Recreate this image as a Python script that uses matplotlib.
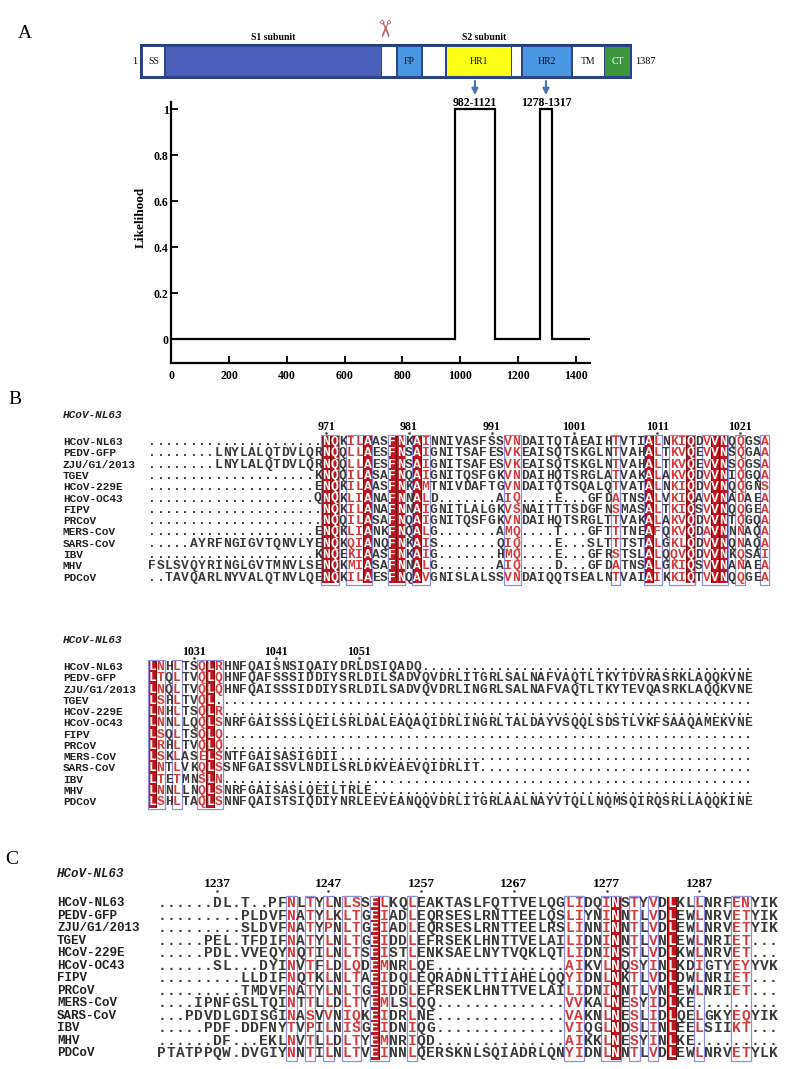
import matplotlib
matplotlib.use("Agg")
import matplotlib.pyplot as plt
from matplotlib.patches import Rectangle

W, H = 789, 1069
SERIF = "Liberation Serif"
MONO = "Liberation Mono"

# ---------------- panel A ----------------
likelihood_pos = [0, 982, 982, 1121, 1121, 1278, 1278, 1317, 1317, 1450]
likelihood_val = [0, 0, 1, 1, 0, 0, 1, 1, 0, 0]
hr_labels = ["982-1121", "1278-1317"]
hr_centres = [1051.5, 1297.5]
x_ticks = [0, 200, 400, 600, 800, 1000, 1200, 1400]
y_ticks = [0, 0.2, 0.4, 0.6, 0.8, 1]
y_ticklabels = ["0", "0.2", "0.4", "0.6", "0.8", "1"]

domain_names = ["SS", "", "", "FP", "", "HR1", "", "HR2", "TM", "CT"]
domain_start = [8, 72, 682, 727, 797, 865, 1049, 1079, 1220, 1310]
domain_end = [68, 678, 721, 792, 859, 1045, 1075, 1214, 1307, 1381]
domain_colors = ["white", "#4a60b8", "white", "#4b96e1", "white",
                 "#ffff1a", "white", "#4b96e1", "white", "#3c963c"]

# ---------------- panels B and C ----------------
species = ["HCoV-NL63", "PEDV-GFP", "ZJU/G1/2013", "TGEV", "HCoV-229E", "HCoV-OC43",
           "FIPV", "PRCoV", "MERS-CoV", "SARS-CoV", "IBV", "MHV", "PDCoV"]

hr1_a = [
    "." * 21 + "NQKILAASFNKAINNIVASFSSVNDAITQTAEAIHTVTIALNKIQDVVNQQGSA",
    "." * 8 + "LNYLALQTDVLQRNQQLLAESFNSAIGNITSAFESVKEAISQTSKGLNTVAHALTKVQEVVNSQGAA",
    "." * 8 + "LNYLALQTDVLQRNQQLLAESFNSAIGNITSAFESVKEAISQTSKGLNTVAHALTKVQEVVNSQGSA",
    "." * 20 + "KNQQILASAFNQAIGNITQSFGKVNDAIHQTSRGLATVAKALAKVQDVVNIQGQA",
    "." * 20 + "ENQKILAASFNKAMTNIVDAFTGVNDAITQTSQALQTVATALNKIQDVVNQQGNS",
    "." * 20 + "QNQKLIANAFNNALD" + "." * 7 + "AIQ" + "." * 4 + "E" + "." * 3 + "GFDATNSALVKIQAVVNADAEA",
    "." * 21 + "NQKILANAFNNAIGNITLALGKVSNAITTTSDGFNSMASALTKIQSVVNQQGEA",
    "." * 21 + "NQQILASAFNQAIGNITQSFGKVNDAIHQTSRGLTTVAKALAKVQDVVNTQGQA",
    "." * 20 + "ENQKLIANKFNQALG" + "." * 7 + "AMQ" + "." * 4 + "T" + "." * 3 + "GFTTTNEAFQKVQDAVNNNAQA",
    "." * 5 + "AYRFNGIGVTQNVLYENQKQIANQFNKAIS" + "." * 7 + "QIQ" + "." * 4 + "E" + "." * 3 + "SLTTTSTALGKLQDVVNQNAQA",
    "." * 20 + "KNQEKIAASFNKAIG" + "." * 7 + "HMQ" + "." * 4 + "E" + "." * 3 + "GFRSTSLALQQVQDVVNKQSAI",
    "FSLSVQYRINGLGVTMNVLSENQKMIASAFNNALG" + "." * 7 + "AIQ" + "." * 4 + "D" + "." * 3 + "GFDATNSALGKIQSVVNANAEA",
    ".." + "TAVQARLNYVALQTNVLQENQKILAESFNQAVGNISLALSSVNDAIQQTSEALNTVAIAIKKIQTVVNQQGEA",
]
hr1_a_red = [21, 22, 26, 29, 30, 32, 60, 65, 68, 69]
hr1_a_frames = [(21, 22), (24, 26), (29, 30), (32, 33), (43, 44), (56, 56),
                (60, 61), (63, 65), (67, 69), (71, 71), (74, 74)]
hr1_a_similar = [24, 25, 33, 43, 44, 56, 61, 63, 64, 67, 71, 74]
hr1_a_numbers = [971, 981, 991, 1001, 1011, 1021]
hr1_a_number_cols = [21, 31, 41, 51, 61, 71]

hr1_b = [
    "LNHLTSQLRHNFQAISNSIQAIYDRLDSIQADQ",
    "LTQLTVQLQHNFQAFSSSIDDIYSRLDILSADVQVDRLITGRLSALNAFVAQTLTKYTDVRASRKLAQQKVNE",
    "LNQLTVQLQHNFQAISSSIDDIYSRLDILSADVQVDRLINGRLSALNAFVAQTLTKYTEVQASRKLAQQKVNE",
    "LSHLTVQL",
    "LNHLTSQLR",
    "LNNLLQQLSNRFGAISSSLQEILSRLDALEAQAQIDRLINGRLTALDAYVSQQLSDSTLVKFSAAQAMEKVNE",
    "LSQLTSQLQ",
    "LRHLTVQLQ",
    "LSKLASELSNTFGAISASIGDII",
    "LNTLVKQLSSNFGAISSVLNDILSRLDKVEAEVQIDRLIT",
    "LTETMNSLN",
    "LNNLLNQLSNRFGAISASLQEILTRLE",
    "LSHLTAQLSNNFQAISTSIQDIYNRLEEVEANQQVDRLITGRLAALNAYVTQLLNQMSQIRQSRLLAQQKINE",
]
hr1_b = [s.ljust(73, ".") for s in hr1_b]
hr1_b_red = [0, 7]
hr1_b_frames = [(0, 1), (3, 3), (6, 8)]
hr1_b_similar = [1, 3, 6, 8]
hr1_b_numbers = [1031, 1041, 1051]
hr1_b_number_cols = [5, 15, 25]

hr2 = [
    "......DL.T..PFNLTYLNLSSELKQLEAKTASLFQTTVELQGLIDQINSTYVDLKLLNRFENYIK",
    "." * 9 + "PLDVFNATYLKLTGEIADLEQRSESLRNTTEELQSLIYNINNTLVDLEWLNRVETYIK",
    "." * 9 + "SLDVFNATYPNLTGEIADLEQRSESLRNTTEELRSLINNINNTLVDLEWLNRVETYIK",
    ".....PEL.TFDIFNATYLNLTGEIDDLEFRSEKLHNTTVELAILIDNINNTLVNLEWLNRIET...",
    ".....PDL.VVEQYNQTILNLTSEISTLENKSAELNYTVQKLQTLIDNINSTLVDLKWLNRVET...",
    "......SL...DYINVTFLDLQDEMNRLQE" + "." * 14 + "AIKVLNQSYINLKDIGTYEYYVK",
    "." * 9 + "LLDIFNQTKLNLTAEIDQLEQRADNLTTIAHELQQYIDNLNKTLVDLDWLNRIET...",
    "." * 9 + "TMDVFNATYLNLTGEIDDLEFRSEKLHNTTVELAILIDNINNTLVNLEWLNRIET...",
    "....IPNFGSLTQINTTLLDLTYEMLSLQQ" + "." * 14 + "VVKALNESYIDLKE",
    "...PDVDLGDISGINASVVNIQKEIDRLNE" + "." * 14 + "VAKNLNESLIDLQELGKYEQYIK",
    ".....PDF.DDFNYTVPILNISGEIDNIQG" + "." * 14 + "VIQGLNDSLINLEELSIIKT",
    "......DF...EKLNVTLLDLTYEMNRIQD" + "." * 14 + "AIKKLNESYINLKE",
    "PTATPPQW.DVGIYNNTILNLTVEINNLQERSKNLSQIADRLQNYIDNLNNTLVDLEWLNRVETYLK",
]
hr2 = [s.ljust(67, ".") for s in hr2]
hr2_red = [23, 49, 55]
hr2_frames = [(14, 14), (16, 16), (18, 18), (20, 21), (23, 24), (27, 27), (44, 45),
              (48, 49), (51, 51), (53, 53), (58, 58), (62, 63)]
hr2_similar = [14, 16, 18, 20, 21, 24, 27, 44, 45, 48, 51, 53, 58, 62, 63]
hr2_numbers = [1237, 1247, 1257, 1267, 1277, 1287]
hr2_number_cols = [6, 18, 28, 38, 48, 58]

INK = "#3a3a3a"
RED = "#c2141c"
DARKRED = "#7a0a0a"
LETTER_RED = "#d43c3c"
FRAME = "#8f8fe0"

fig = plt.figure(figsize=(W / 100, H / 100), dpi=100)


def rect(x0, y0, x1, y1):
    return [x0 / W, 1 - y1 / H, (x1 - x0) / W, (y1 - y0) / H]


def ftext(x, y, s, **kw):
    fig.text(x / W, 1 - y / H, s, **kw)


# panel letters
ftext(25, 33, "A", family=SERIF, fontsize=14, ha="center", va="center")
ftext(15, 400, "B", family=SERIF, fontsize=14, ha="center", va="center")
ftext(12, 860, "C", family=SERIF, fontsize=14, ha="center", va="center")

# ---- domain bar ----
bar = fig.add_axes(rect(140.4, 44.3, 632.1, 79))
bar.set_xlim(1, 1387)
bar.set_ylim(0, 1)
bar.axis("off")
bar.add_patch(Rectangle((1, 0), 1386, 1, facecolor="#2c4488", edgecolor="#243a78", lw=1))
for name, s, e, col in zip(domain_names, domain_start, domain_end, domain_colors):
    bar.add_patch(Rectangle((s, 0.08), e - s, 0.84, facecolor=col, edgecolor="none"))
    if name:
        bar.text((s + e) / 2, 0.5, name, ha="center", va="center", family=SERIF,
                 fontsize=7, color="white" if name == "CT" else "#111111")
bar.text(-8, 0.5, "1", ha="right", va="center", family=SERIF, fontsize=7.5, clip_on=False)
bar.text(1396, 0.5, "1387", ha="left", va="center", family=SERIF, fontsize=7.5, clip_on=False)
ftext(273, 37, "S1 subunit", family=SERIF, fontsize=7, weight="bold", ha="center", va="center")
ftext(484, 38, "S2 subunit", family=SERIF, fontsize=7, weight="bold", ha="center", va="center")
ftext(382, 29, "\u2702", family="DejaVu Sans", fontsize=17, color="#b86060",
      rotation=270, ha="center", va="center")

# ---- likelihood plot ----
ax = fig.add_axes(rect(171.4, 101.7, 590, 362.7))
ax.plot(likelihood_pos, likelihood_val, color="black", lw=1.6, solid_joinstyle="miter")
ax.set_xlim(0, 1450)
ax.set_ylim(-0.1017, 1.033)
ax.spines["top"].set_visible(False)
ax.spines["right"].set_visible(False)
ax.spines["left"].set_linewidth(1.6)
ax.spines["bottom"].set_linewidth(1.6)
ax.set_xticks(x_ticks)
ax.set_yticks(y_ticks)
ax.set_yticklabels(y_ticklabels)
ax.tick_params(direction="in", length=5, width=1.3, labelsize=8.5)
ax.tick_params(axis="x", pad=5)
ax.tick_params(axis="y", pad=2)
for lab in ax.get_xticklabels() + ax.get_yticklabels():
    lab.set_fontfamily(SERIF)
    lab.set_fontweight("bold")
ftext(141, 217, "Likelihood", family=SERIF, fontsize=9.5, weight="bold",
      rotation=90, ha="center", va="center")
for lab, xc in zip(hr_labels, hr_centres):
    ax.text(xc, 1.0, lab, ha="center", va="bottom", family=SERIF, fontsize=8.5,
            weight="bold", clip_on=False)
    ax.annotate("", xy=(xc, 1.05), xytext=(xc, 1.135), xycoords="data",
                arrowprops=dict(arrowstyle="-|>", color="#4a6fb5", lw=1.5, mutation_scale=9),
                annotation_clip=False)


# ---- alignments ----
def alignment(box, rows, red_cols, frames, similar, numbers, number_cols,
              fs, name_fs, name_px, header_row, number_row, cw):
    ncol = len(rows[0])
    nrow = len(rows)
    a = fig.add_axes(rect(*box))
    a.set_xlim(0, ncol)
    a.set_ylim(nrow - 0.5, -0.5)
    a.axis("off")
    for c in red_cols:
        a.add_patch(Rectangle((c, -0.55), 1, nrow + 0.1, facecolor=RED,
                              edgecolor=DARKRED, lw=0.8))
    for c0, c1 in frames:
        a.add_patch(Rectangle((c0 - 0.06, -0.62), c1 - c0 + 1.12, nrow + 0.24,
                              fill=False, edgecolor=FRAME, lw=0.9, clip_on=False))
    for i, row in enumerate(rows):
        for c, ch in enumerate(row):
            if c in red_cols:
                color = "white"
            elif c in similar and ch != ".":
                color = LETTER_RED
            else:
                color = INK
            a.text(c + 0.5, i, ch, ha="center", va="center", family=MONO,
                   fontsize=fs, weight="bold", color=color)
    name_x = (name_px - box[0]) / cw
    for i, name in enumerate(species):
        a.text(name_x, i, name, ha="left", va="center", family=MONO,
               fontsize=name_fs, weight="bold", color="#222222", clip_on=False)
    a.text(name_x, header_row, "HCoV-NL63", ha="left", va="center", family=MONO,
           fontsize=name_fs, weight="bold", style="italic", color="#222222", clip_on=False)
    for n, c in zip(numbers, number_cols):
        a.text(c + 0.5, number_row, str(n), ha="center", va="center", family=SERIF,
               fontsize=fs - 0.8, weight="bold", clip_on=False)
        a.plot([c + 0.5], [number_row + 0.55], marker="o", ms=0.9, color="#444444",
               clip_on=False)


cwb = 8.28
alignment((148, 436.35, 148 + 75 * cwb, 436.35 + 13 * 11.3), hr1_a, hr1_a_red,
          hr1_a_frames, hr1_a_similar, hr1_a_numbers, hr1_a_number_cols,
          9.4, 8, 63, -2.39, -1.33, cwb)
alignment((148, 661.4, 148 + 73 * cwb, 661.4 + 13 * 11.25), hr1_b, hr1_b_red,
          hr1_b_frames, hr1_b_similar, hr1_b_numbers, hr1_b_number_cols,
          9.4, 8, 63, -2.4, -1.33, cwb)
cwc = 9.27
alignment((157, 897.0, 157 + 67 * cwc, 897.0 + 13 * 12.5), hr2, hr2_red,
          hr2_frames, hr2_similar, hr2_numbers, hr2_number_cols,
          10.5, 9, 57, -2.34, -1.54, cwc)

fig.savefig("out.png", dpi=100)
